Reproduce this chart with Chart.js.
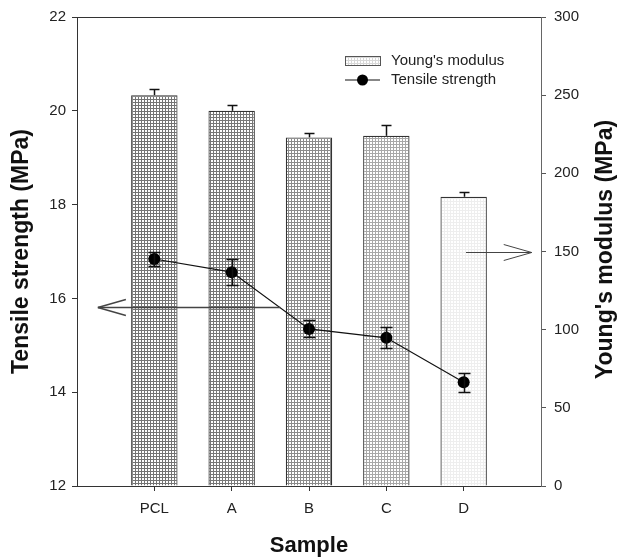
<!DOCTYPE html>
<html><head><meta charset="utf-8">
<script src="https://cdn.jsdelivr.net/npm/chart.js@4.4.1/dist/chart.umd.min.js"></script>
<style>html,body{margin:0;padding:0;background:#fff}#wrap{width:622px;height:560px}</style>
</head><body><div id="wrap"><canvas id="c" width="622" height="560"></canvas></div>
<script>
const categories = ['', 'PCL', 'A', 'B', 'C', 'D', ''];
const youngsModulus = [null, 250, 240, 223, 224, 185, null];
const youngsModulusErr = [null, 4, 4, 3, 7, 3, null];
const tensileStrength = [null, 16.84, 16.56, 15.35, 15.16, 14.21, null];
const tensileStrengthErr = [null, 0.15, 0.27, 0.18, 0.22, 0.21, null];
const leftAxis = {min: 12, max: 22, step: 2, title: 'Tensile strength (MPa)'};
const rightAxis = {min: 0, max: 300, step: 50, title: "Young's modulus (MPa)"};
const xTitle = 'Sample';
const seriesLabels = ["Young's modulus", 'Tensile strength'];
// arrow annotations (data space: x = category index, y on own axis)
const leftArrow = {y: 15.82, xFrom: 2.63, xTo: 0.27};
const rightArrow = {y: 150, xFrom: 5.03, xTo: 5.88};

const FONT = '"Liberation Sans", Arial, sans-serif';

function makePattern(dot) {
  const c = document.createElement('canvas');
  c.width = 3; c.height = 3;
  const g = c.getContext('2d');
  g.fillStyle = '#ffffff'; g.fillRect(0, 0, 3, 3);
  g.fillStyle = dot;
  g.fillRect(0, 0, 3, 1);
  g.fillRect(0, 0, 1, 3);
  return g.createPattern(c, 'repeat');
}
const barFills = [null, makePattern('#747474'), makePattern('#787878'), makePattern('#8a8a8a'), makePattern('#a8a8a8'), makePattern('#eeeeee'), null];
const legendFill = makePattern('#d8d8d8');

function seg(ctx, x1, y1, x2, y2) { ctx.beginPath(); ctx.moveTo(x1, y1); ctx.lineTo(x2, y2); ctx.stroke(); }

function arrow(ctx, x1, y, x2) {
  seg(ctx, x1, y, x2, y);
  const dir = x2 > x1 ? -1 : 1;
  seg(ctx, x2, y, x2 + dir * 28, y - 8);
  seg(ctx, x2, y, x2 + dir * 28, y + 8);
}

const decor = {
  id: 'decor',
  afterDatasetsDraw(chart) {
    const {ctx, chartArea: ca, scales: {x, y, y2}} = chart;
    ctx.save();
    ctx.strokeStyle = '#333'; ctx.lineWidth = 1;
    seg(ctx, ca.left, ca.top + 0.5, ca.right, ca.top + 0.5);
    // bar error bars (upper)
    chart.getDatasetMeta(0).data.forEach((el, i) => {
      if (youngsModulus[i] == null) return;
      const px = Math.round(el.x) + 0.5;
      const top = Math.round(y2.getPixelForValue(youngsModulus[i] + youngsModulusErr[i])) + 0.5;
      ctx.strokeStyle = '#111'; ctx.lineWidth = 1.5;
      seg(ctx, px, el.y, px, top);
      seg(ctx, px - 5, top, px + 5, top);
    });
    // line error bars
    chart.getDatasetMeta(1).data.forEach((el, i) => {
      if (tensileStrength[i] == null) return;
      const px = Math.round(el.x) + 0.5;
      const t = Math.round(y.getPixelForValue(tensileStrength[i] + tensileStrengthErr[i])) + 0.5;
      const b = Math.round(y.getPixelForValue(tensileStrength[i] - tensileStrengthErr[i])) + 0.5;
      ctx.strokeStyle = '#111'; ctx.lineWidth = 1.5;
      seg(ctx, px, t, px, b);
      seg(ctx, px - 6, t, px + 6, t);
      seg(ctx, px - 6, b, px + 6, b);
    });
    // arrows
    ctx.strokeStyle = '#444'; ctx.lineWidth = 1.5;
    arrow(ctx, x.getPixelForValue(leftArrow.xFrom), Math.round(y.getPixelForValue(leftArrow.y)) + 0.5, x.getPixelForValue(leftArrow.xTo));
    ctx.lineWidth = 1;
    arrow(ctx, x.getPixelForValue(rightArrow.xFrom), Math.round(y2.getPixelForValue(rightArrow.y)) + 0.5, x.getPixelForValue(rightArrow.xTo));
    // legend
    const lx = ca.left + 268, ly = ca.top + 39;
    ctx.fillStyle = legendFill; ctx.fillRect(lx, ly, 35, 9);
    ctx.strokeStyle = '#555'; ctx.lineWidth = 1; ctx.strokeRect(lx + 0.5, ly + 0.5, 35, 9);
    ctx.strokeStyle = '#111'; ctx.lineWidth = 1.2;
    seg(ctx, lx, ly + 24, lx + 35, ly + 24);
    ctx.fillStyle = '#000'; ctx.beginPath(); ctx.arc(lx + 17.5, ly + 24, 5.5, 0, Math.PI * 2); ctx.fill();
    ctx.fillStyle = '#222'; ctx.font = '15px ' + FONT; ctx.textBaseline = 'middle'; ctx.textAlign = 'left';
    ctx.fillText(seriesLabels[0], lx + 46, ly + 4.5);
    ctx.fillText(seriesLabels[1], lx + 46, ly + 24);
    // axis titles
    const midY = (ca.top + ca.bottom) / 2;
    ctx.fillStyle = '#111'; ctx.font = 'bold 22px ' + FONT; ctx.textAlign = 'center';
    ctx.fillText(xTitle, (ca.left + ca.right) / 2, 546);
    ctx.font = 'bold 23px ' + FONT;
    ctx.save(); ctx.translate(22, midY); ctx.rotate(-Math.PI / 2); ctx.fillText(leftAxis.title, 0, 0); ctx.restore();
    ctx.save(); ctx.translate(606, midY - 2); ctx.rotate(-Math.PI / 2); ctx.fillText(rightAxis.title, 0, 0); ctx.restore();
    ctx.restore();
  }
};

Chart.defaults.font.family = FONT;
new Chart(document.getElementById('c'), {
  data: {
    labels: categories,
    datasets: [
      {type: 'bar', label: seriesLabels[0], data: youngsModulus, yAxisID: 'y2', order: 2,
       backgroundColor: barFills, borderColor: '#333', borderWidth: 1.2, borderSkipped: 'bottom',
       barPercentage: 0.6, categoryPercentage: 1},
      {type: 'line', label: seriesLabels[1], data: tensileStrength, yAxisID: 'y', order: 1,
       borderColor: '#111', borderWidth: 1.2, pointRadius: 6, pointBackgroundColor: '#000',
       pointBorderColor: '#000', pointBorderWidth: 0, tension: 0, fill: false}
    ]
  },
  options: {
    responsive: false, animation: false, devicePixelRatio: 1,
    layout: {padding: {top: 15, left: 0, right: 0, bottom: 0}},
    plugins: {legend: {display: false}, tooltip: {enabled: false}},
    scales: {
      x: {
        type: 'category', offset: false,
        grid: {offset: false, drawOnChartArea: false, drawTicks: true, tickLength: 5,
               color: c => (c.tick && c.tick.label === '') ? 'rgba(0,0,0,0)' : '#333'},
        border: {display: true, color: '#333', width: 1},
        ticks: {autoSkip: false, maxRotation: 0, padding: 9, color: '#222', font: {size: 15}},
        afterFit: s => { s.height = 74; }
      },
      y: {
        type: 'linear', position: 'left', min: leftAxis.min, max: leftAxis.max,
        grid: {drawOnChartArea: false, tickLength: 5, color: '#333'},
        border: {display: true, color: '#333', width: 1},
        ticks: {stepSize: leftAxis.step, padding: 6, color: '#222', font: {size: 15}},
        afterFit: s => { s.width = 77; }
      },
      y2: {
        type: 'linear', position: 'right', min: rightAxis.min, max: rightAxis.max,
        grid: {drawOnChartArea: false, tickLength: 5, color: '#555'},
        border: {display: true, color: '#666', width: 1},
        ticks: {stepSize: rightAxis.step, padding: 8, color: '#222', font: {size: 15}},
        afterFit: s => { s.width = 81; }
      }
    }
  },
  plugins: [decor]
});
</script></body></html>
